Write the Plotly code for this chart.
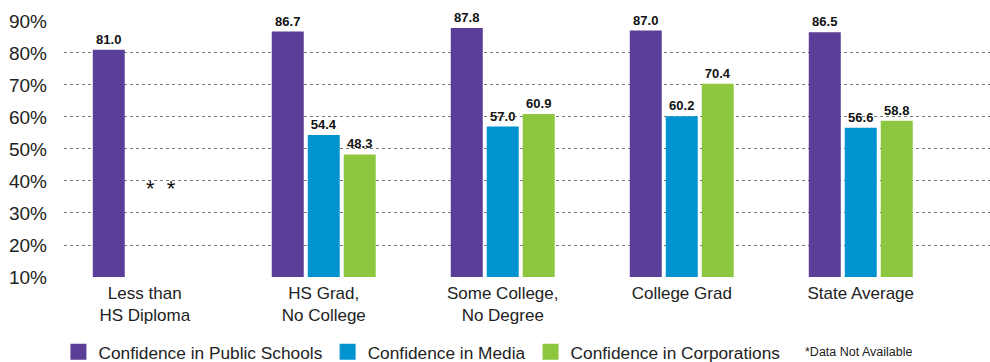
import plotly.graph_objects as go

categories = ["Less than<br>HS Diploma", "HS Grad,<br>No College", "Some College,<br>No Degree",
              "College Grad", "State Average"]
public_schools = [81.0, 86.7, 87.8, 87.0, 86.5]
media = [None, 54.4, 57.0, 60.2, 56.6]
corporations = [None, 48.3, 60.9, 70.4, 58.8]
series_names = ["Confidence in Public Schools", "Confidence in Media", "Confidence in Corporations"]
colors = ["#5a3e97", "#0093d0", "#8dc63f"]
y_ticks = [10, 20, 30, 40, 50, 60, 70, 80, 90]

FONT = "Liberation Sans, Arial, sans-serif"

fig = go.Figure()
for name, vals, col in zip(series_names, [public_schools, media, corporations], colors):
    fig.add_trace(go.Bar(
        x=categories, y=vals, name=name, marker_color=col, marker_line_width=0,
        text=[f"{v:.1f}" if v is not None else "" for v in vals],
        textposition="outside", cliponaxis=False,
        textfont=dict(family=FONT, size=13, color="#111111", weight="bold"),
        showlegend=False,
    ))
    # legend proxies with larger square swatches
    fig.add_trace(go.Scatter(
        x=[None], y=[None], mode="markers", name=name,
        marker=dict(symbol="square", size=16, color=col),
        showlegend=True,
    ))

fig.add_annotation(x=categories[0], y=37.5, text="*  *", showarrow=False,
                   xshift=16, font=dict(family=FONT, size=22, color="#111111"))
fig.add_annotation(xref="paper", yref="paper", x=(803 - 64) / 926, y=-0.292,
                   xanchor="left", yanchor="middle", text="*Data Not Available",
                   showarrow=False, font=dict(family=FONT, size=12.5, color="#222222"))

fig.update_layout(
    width=990, height=362,
    margin=dict(l=64, r=0, t=20, b=85, autoexpand=False),
    plot_bgcolor="white", paper_bgcolor="white",
    barmode="group", bargap=0.397, bargroupgap=0.111,
    font=dict(family=FONT, color="#222222"),
    legend=dict(orientation="h", x=-0.006, xanchor="left", y=-0.292, yanchor="middle",
                font=dict(family=FONT, size=17.3, color="#222222"),
                itemsizing="trace", tracegroupgap=0, bgcolor="rgba(0,0,0,0)"),
    xaxis=dict(type="category", range=[-0.451, 4.722], showgrid=False, showline=False,
               automargin=False, ticks="", ticklabelstandoff=4,
               tickfont=dict(family=FONT, size=17, color="#222222")),
    yaxis=dict(range=[10, 90.3], tickvals=y_ticks, ticktext=[f"{t}%" for t in y_ticks],
               showgrid=True, gridcolor="#7a7a7a", gridwidth=1, griddash="dot",
               zeroline=False, showline=False, ticks="", ticklabelstandoff=16,
               automargin=False,
               tickfont=dict(family=FONT, size=19, color="#222222")),
)

fig.write_html("out.html")
